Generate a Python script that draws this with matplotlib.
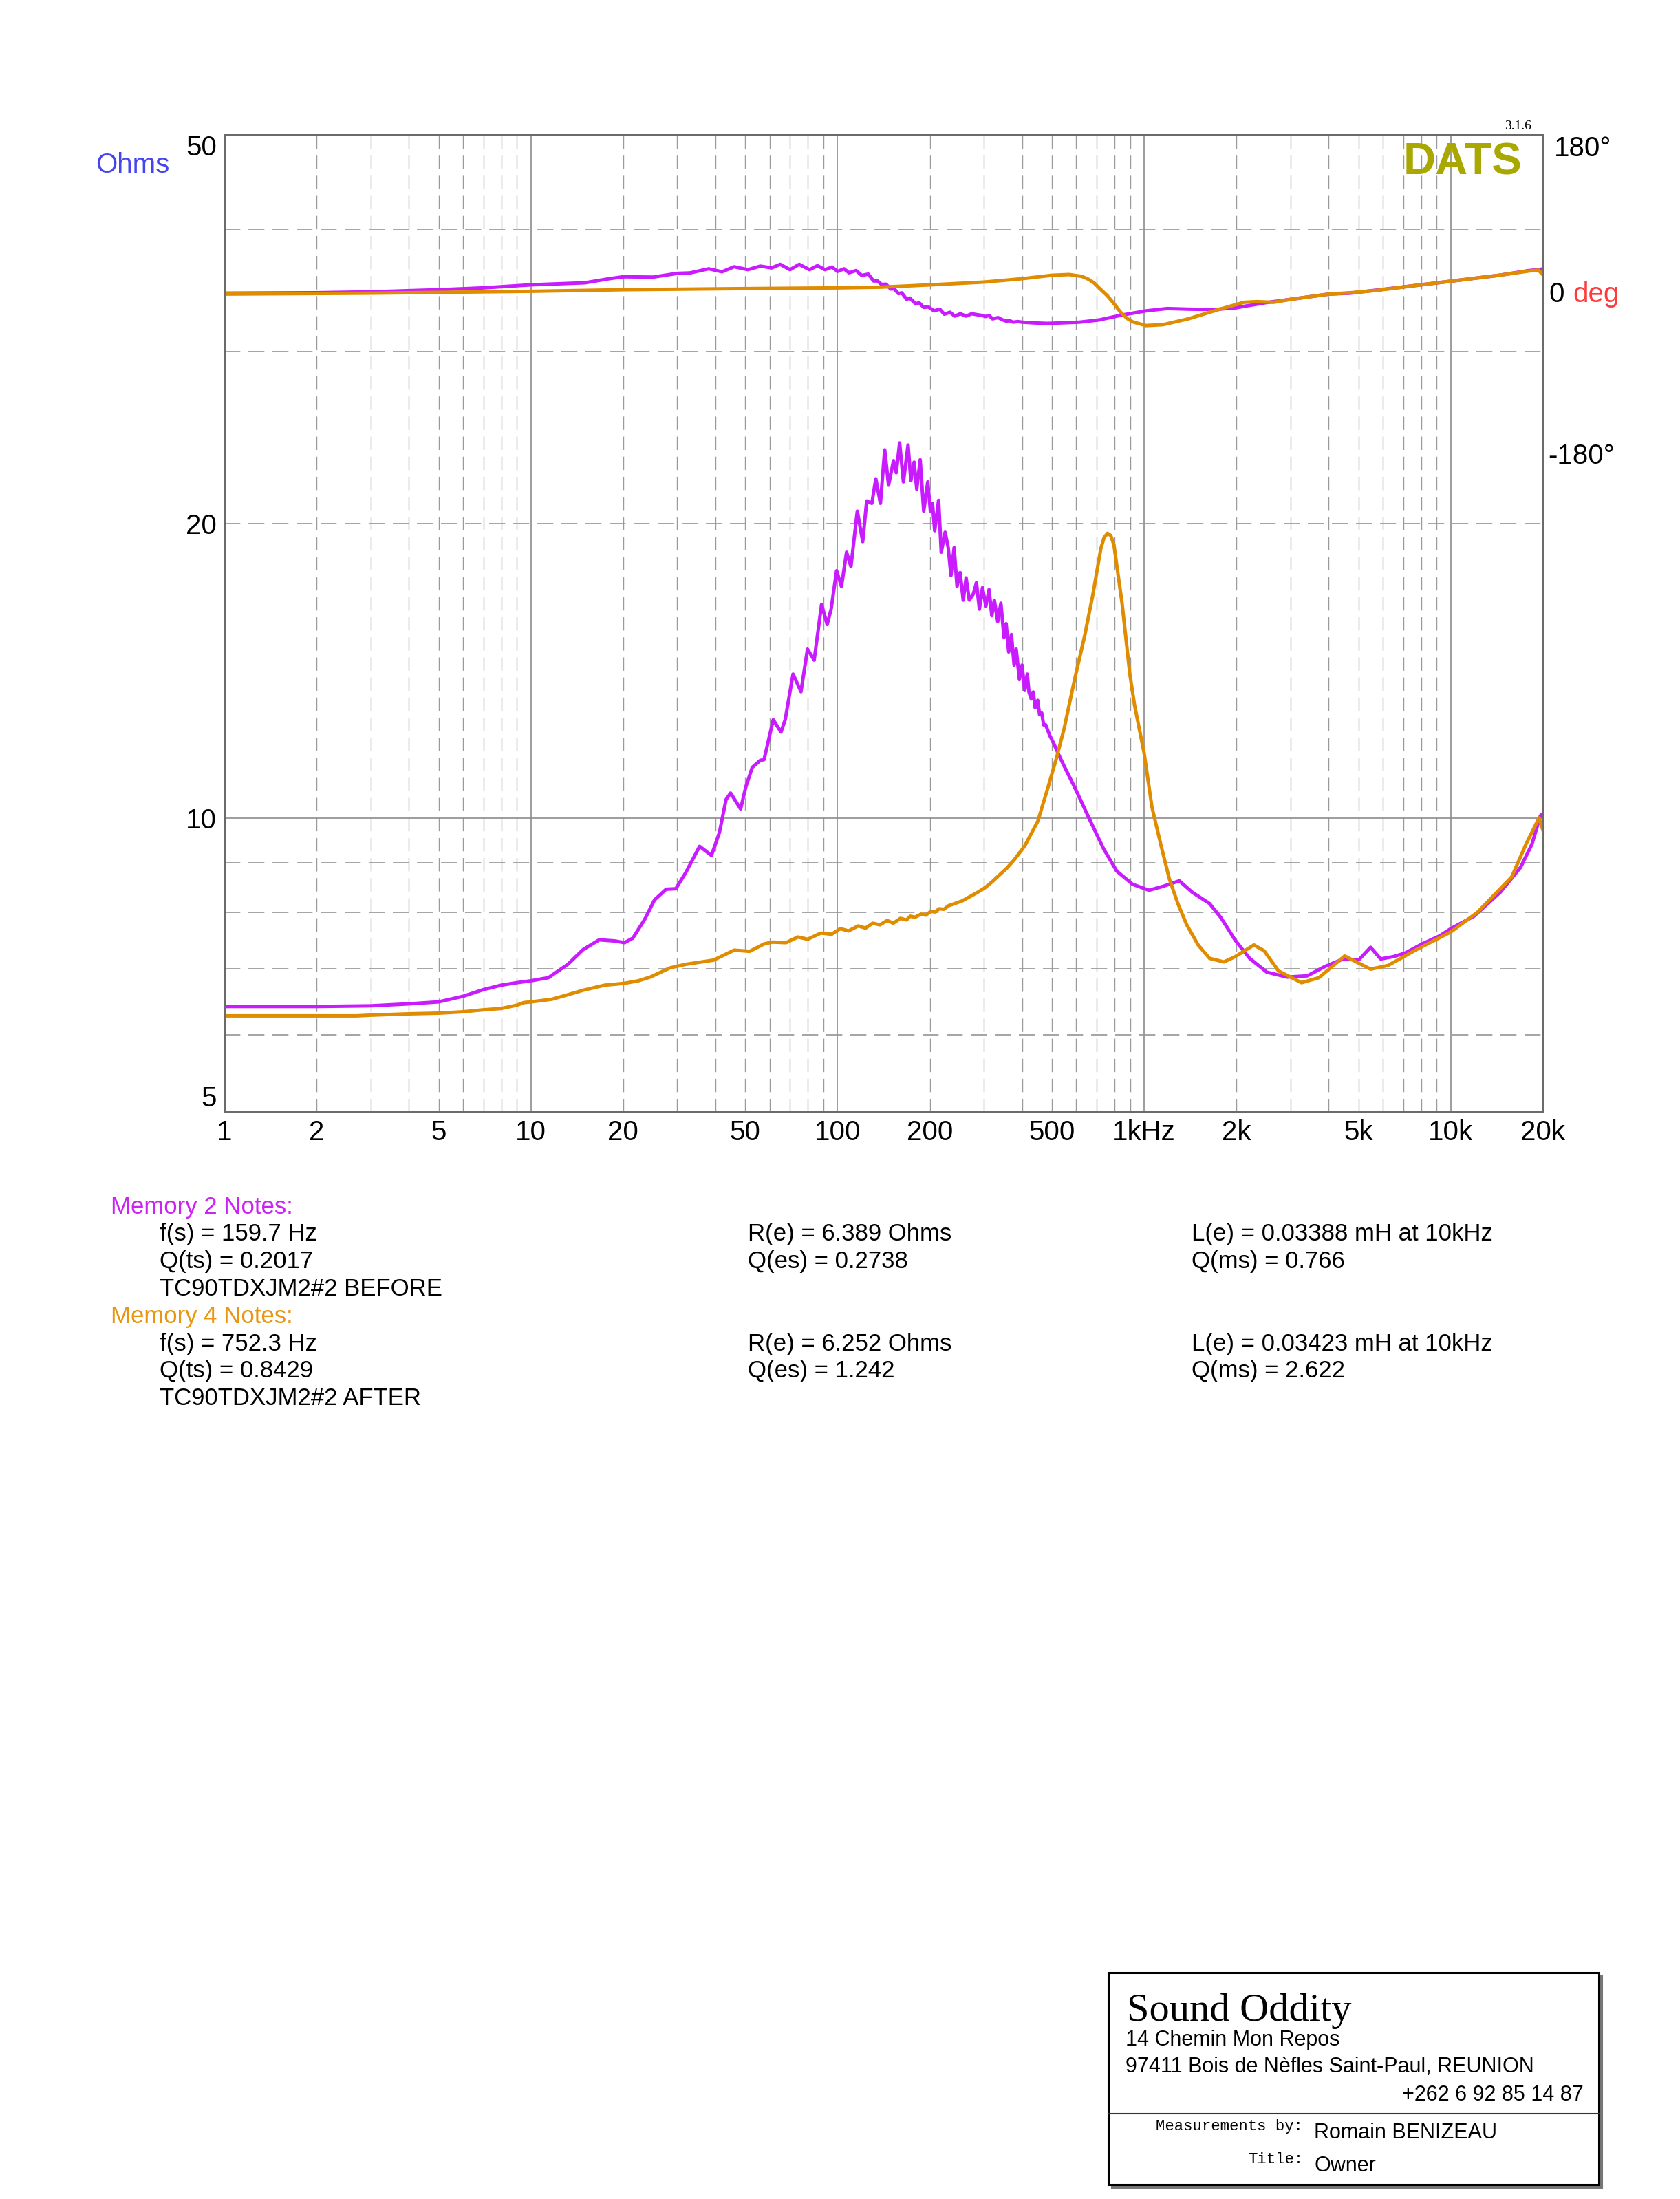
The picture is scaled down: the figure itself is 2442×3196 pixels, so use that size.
import numpy as np
import matplotlib.pyplot as plt
from matplotlib.patches import Rectangle
from matplotlib.lines import Line2D
from matplotlib.ticker import NullLocator, NullFormatter

plt.rcParams['font.family'] = ['Liberation Sans', 'DejaVu Sans']

# ---- data ----
# memory 2 (before), impedance magnitude
f_imp2 = [1, 2, 3, 4, 5, 6, 7, 8, 9, 10, 11.4, 13.2, 14.8, 16.7, 18.8, 20.2, 21.5, 23.5, 25.3, 27.6,
          29.7, 32, 35.5, 38.8, 41.2, 43.3, 44.8, 48.3, 50.2, 52.7, 56, 57.6, 61.7, 65.4, 67.5, 71.6,
          76, 79.8, 83.9, 88.7, 92.5, 95.3, 99.3, 103, 107, 110.6, 116, 120.8, 124.5, 129.4, 133.3,
          138, 142.5, 146.7, 152.3, 155.4, 159.4, 164, 169.8, 173.5, 177.7, 181.3, 186, 191, 196.9,
          200.9, 204, 207.4, 213.6, 217.9, 224.3, 229.6, 234.4, 240, 245.3, 251, 257, 262.6, 269,
          277.3, 283.8, 290.2, 297, 304.6, 312, 318.5, 324.6, 333, 341, 349, 354.7, 361.6, 369,
          376.6, 382.6, 391.8, 399.8, 407.8, 415.6, 421, 428.4, 435, 441, 449.6, 456, 463.5, 470,
          477.3, 491.7, 506, 526.7, 548, 593, 668, 738, 814, 916, 1037, 1156, 1302, 1435, 1634,
          1781, 1983, 2208, 2513, 2925, 3403, 3874, 4412, 5024, 5475, 5906, 6505, 7096, 8079, 9200,
          10000, 11900, 14500, 16900, 18400, 19600, 20000]
z_imp2 = [6.41, 6.41, 6.42, 6.45, 6.48, 6.565, 6.67, 6.74, 6.78, 6.81, 6.86, 7.08, 7.33, 7.5, 7.48,
          7.45, 7.53, 7.87, 8.24, 8.45, 8.46, 8.79, 9.35, 9.15, 9.66, 10.44, 10.6, 10.21, 10.75,
          11.26, 11.45, 11.47, 12.6, 12.24, 12.6, 14.03, 13.46, 14.88, 14.5, 16.53, 15.77, 16.35,
          17.9, 17.25, 18.7, 18.08, 20.6, 19.17, 21.1, 20.98, 22.23, 20.98, 23.8, 21.9, 23.2, 22.55,
          24.19, 22.07, 24.07, 22.14, 23.12, 21.69, 23.25, 20.6, 22.07, 20.6, 20.98, 19.67, 21.13,
          18.7, 19.6, 18.9, 17.7, 18.9, 17.25, 17.82, 16.7, 17.6, 16.7, 16.95, 17.4, 16.35, 17.2,
          16.47, 17.12, 16.1, 16.7, 15.88, 16.58, 15.3, 15.8, 14.78, 15.4, 14.33, 14.88, 13.85,
          14.33, 13.5, 14.03, 13.45, 13.23, 13.45, 12.96, 13.19, 12.75, 12.8, 12.45, 12.45, 12.15,
          11.93, 11.6, 11.3, 10.75, 9.92, 9.29, 8.82, 8.55, 8.43, 8.51, 8.62, 8.39, 8.17, 7.9,
          7.49, 7.18, 6.95, 6.87, 6.89, 7.04, 7.16, 7.16, 7.37, 7.17, 7.21, 7.27, 7.43, 7.57, 7.7,
          7.93, 8.39, 8.9, 9.4, 10.05, 10.1]

# memory 4 (after), impedance magnitude
f_imp4 = [1, 2, 2.7, 3, 4, 5, 6, 7, 8, 9, 9.5, 10, 11.7, 13.2, 14.8, 17.4, 20.2, 22.4, 24.5, 28.4,
          32, 39.4, 42, 46, 51.7, 57.7, 61.4, 67.9, 74.3, 79.9, 88.2, 95.7, 102, 108.6, 116.8, 123.4,
          130.2, 137.5, 145.2, 152, 160.4, 167.9, 172.6, 179, 187.3, 194.1, 201.4, 208.6, 214.4,
          222.3, 230.5, 241.2, 254.7, 271.2, 286.5, 302.6, 319.4, 337.4, 356.3, 376.2, 408, 450,
          486, 516, 548, 593, 641, 681, 722, 740, 759, 778, 797, 847, 898, 930, 1000, 1060, 1132,
          1208, 1288, 1374, 1500, 1634, 1820, 1983, 2280, 2461, 2743, 3260, 3713, 4507, 5475, 6234,
          7726, 10000, 12200, 15800, 17600, 19400, 20000]
z_imp4 = [6.27, 6.27, 6.27, 6.28, 6.30, 6.31, 6.33, 6.36, 6.38, 6.43, 6.47, 6.48, 6.52, 6.59, 6.66,
          6.74, 6.77, 6.81, 6.87, 7.02, 7.08, 7.15, 7.22, 7.32, 7.3, 7.43, 7.46, 7.45, 7.55, 7.51,
          7.62, 7.6, 7.7, 7.66, 7.75, 7.71, 7.8, 7.77, 7.85, 7.8, 7.89, 7.86, 7.93, 7.91, 7.97,
          7.95, 8.02, 8.01, 8.07, 8.06, 8.13, 8.17, 8.22, 8.31, 8.39, 8.48, 8.6, 8.74, 8.88, 9.05,
          9.36, 9.92, 10.75, 11.47, 12.33, 13.85, 15.4, 16.95, 18.85, 19.35, 19.55, 19.45, 19.02,
          16.58, 14.03, 13.05, 11.64, 10.26, 9.4, 8.66, 8.17, 7.78, 7.41, 7.18, 7.12, 7.21, 7.41,
          7.31, 6.97, 6.78, 6.86, 7.22, 7.0, 7.06, 7.33, 7.64, 8.0, 8.7, 9.4, 10.0, 9.7]

# phase, degrees
f_ph2 = [1, 2, 3, 5, 7, 10, 15, 18, 20, 25, 30, 33, 38, 42, 46, 51, 56, 61, 65, 70, 75, 81, 86, 91,
         96, 100, 105, 109, 115, 120, 126, 131, 135, 139, 144, 149, 153, 158, 162, 168, 172, 180,
         184.5, 191, 197.7, 206.4, 215.5, 223, 232.8, 241, 251.6, 262.6, 274, 286, 295, 304, 312,
         320, 334, 345, 355, 364, 374, 387, 400, 437, 484, 537, 615, 712, 836, 1014, 1189, 1394,
         1691, 1985, 2484, 3010, 4011, 4709, 5706, 7598, 10000, 14400, 18000, 19300, 20000]
p_ph2 = [1.5, 2, 3, 5.4, 7.5, 10.9, 13.2, 17.8, 20, 19.6, 23.8, 24.3, 29, 25.6, 31.3, 28, 32, 30,
         34, 28, 34, 28, 32.5, 28, 31, 26, 29, 24.5, 27, 21.5, 23, 15.3, 15.3, 11.4, 11.6, 6.2,
         6.4, 1.0, 1.9, -5.4, -4, -10.6, -9.2, -14.5, -14, -18.4, -16.5, -22.2, -20, -24.3, -21.7,
         -24.3, -21.7, -22.8, -23.5, -24.8, -23.5, -27.4, -26, -28.5, -30, -29.5, -31.2, -30.5,
         -31.2, -32, -32.6, -32, -31.2, -28.7, -23.5, -18.4, -15.8, -16.5, -17, -15, -9.3, -5.4,
         0.5, 1.5, 4.9, 10, 15, 21.7, 27, 28, 29]

f_ph4 = [1, 3, 10, 20, 50, 100, 139, 204, 300, 400, 501, 569, 627, 660, 689, 720, 759, 800, 836,
         880, 920, 1014, 1152, 1394, 1746, 2115, 2325, 2645, 3010, 4011, 4709, 5706, 7598, 10000,
         14400, 18000, 19300, 20000]
p_ph4 = [0.5, 1.5, 3.6, 5.4, 6.7, 7.5, 8.3, 11, 14, 17.8, 21.7, 22.5, 20.4, 17, 12.6, 6, -1.5, -11,
         -19.6, -27, -31, -35, -34, -27.4, -17, -8.8, -8, -8.8, -5.4, 0.5, 2, 4.5, 10, 15, 21.7,
         26.5, 27.5, 22]

xt = [1, 2, 5, 10, 20, 50, 100, 200, 500, 1000, 2000, 5000, 10000, 20000]
xl = ['1', '2', '5', '10', '20', '50', '100', '200', '500', '1kHz', '2k', '5k', '10k', '20k']
yt = [5, 10, 20, 50]
yl = ['5', '10', '20', '50']

notes2 = ['f(s) = 159.7 Hz', 'Q(ts) = 0.2017', 'TC90TDXJM2#2 BEFORE']
notes2b = ['R(e) = 6.389 Ohms', 'Q(es) = 0.2738']
notes2c = ['L(e) = 0.03388 mH at 10kHz', 'Q(ms) = 0.766']
notes4 = ['f(s) = 752.3 Hz', 'Q(ts) = 0.8429', 'TC90TDXJM2#2 AFTER']
notes4b = ['R(e) = 6.252 Ohms', 'Q(es) = 1.242']
notes4c = ['L(e) = 0.03423 mH at 10kHz', 'Q(ms) = 2.622']

PURPLE = '#c81cff'
ORANGE = '#e08c00'

W, H = 2442, 3196
def fx(px): return px / W
def fy(py): return 1 - py / H

fig = plt.figure(figsize=(W / 100, H / 100), dpi=100)
ax = fig.add_axes([fx(326), fy(1616), fx(2243) - fx(326), fy(196) - fy(1616)])
ax.set_xscale('log')
ax.set_yscale('log')
ax.set_xlim(1, 20000)
ax.set_ylim(5, 50)

dash = (0, (14, 7))
for dec in [1, 10, 100, 1000, 10000]:
    for m in range(2, 10):
        if dec * m < 20000:
            ax.axvline(dec * m, color='#9a9a9a', lw=1.0, ls=dash, zorder=1)
for f in [10, 100, 1000, 10000]:
    ax.axvline(f, color='#8c8c8c', lw=1.2, zorder=1)
for z in [6, 7, 8, 9, 20, 30, 40]:
    ax.axhline(z, color='#959595', lw=1.2, ls=dash, zorder=1)
ax.axhline(10, color='#8c8c8c', lw=1.2, zorder=1)

LW = 3.6
ax.plot(f_imp2, z_imp2, color=PURPLE, lw=LW, solid_joinstyle='round', zorder=3)
ax.plot(f_imp4, z_imp4, color=ORANGE, lw=LW, solid_joinstyle='round', zorder=4)

ax2 = ax.twinx()
ax2.set_ylim(-921.6, 180)
ax2.set_yticks([])
ax2.plot(f_ph2, p_ph2, color=PURPLE, lw=LW, solid_joinstyle='round')
ax2.plot(f_ph4, p_ph4, color=ORANGE, lw=LW, solid_joinstyle='round')

for a in (ax, ax2):
    for s in a.spines.values():
        s.set_color('#6a6a6a')
        s.set_linewidth(2)

ax.xaxis.set_minor_locator(NullLocator())
ax.xaxis.set_minor_formatter(NullFormatter())
ax.yaxis.set_minor_locator(NullLocator())
ax.yaxis.set_minor_formatter(NullFormatter())
ax.set_xticks(xt)
ax.set_xticklabels(xl, fontsize=29)
ax.set_yticks(yt)
labs = ax.set_yticklabels(yl, fontsize=29)
labs[0].set_va('bottom')
labs[-1].set_va('top')
ax.tick_params(axis='both', length=0)
ax.tick_params(axis='x', pad=8)
ax.tick_params(axis='y', pad=8)

# axis titles and labels around the frame
fig.text(fx(139), fy(240), 'Ohms', color='#4545f0', fontsize=29, va='center', ha='left')
fig.text(fx(2259), fy(216), '180°', fontsize=29, va='center', ha='left')
fig.text(fx(2251), fy(428), '0', fontsize=29, va='center', ha='left')
fig.text(fx(2286), fy(428), 'deg', color='#ff3a3a', fontsize=29, va='center', ha='left')
fig.text(fx(2250), fy(663), '-180°', fontsize=29, va='center', ha='left')
fig.text(fx(2212), fy(236), 'DATS', color='#a8a800', fontsize=47, fontweight='bold',
         va='center', ha='right')
fig.text(fx(2226), fy(183), '3.1.6', fontsize=14, family='Liberation Serif',
         va='center', ha='right')

# notes
NS = 25
fig.text(fx(161), fy(1764), 'Memory 2 Notes:', color='#cc22f2', fontsize=NS)
base2 = [1803, 1843, 1883]
for t, b in zip(notes2, base2):
    fig.text(fx(232), fy(b), t, fontsize=NS)
for t, b in zip(notes2b, base2):
    fig.text(fx(1087), fy(b), t, fontsize=NS)
for t, b in zip(notes2c, base2):
    fig.text(fx(1732), fy(b), t, fontsize=NS)

fig.text(fx(161), fy(1923), 'Memory 4 Notes:', color='#e8960f', fontsize=NS)
base4 = [1963, 2002, 2042]
for t, b in zip(notes4, base4):
    fig.text(fx(232), fy(b), t, fontsize=NS)
for t, b in zip(notes4b, base4):
    fig.text(fx(1087), fy(b), t, fontsize=NS)
for t, b in zip(notes4c, base4):
    fig.text(fx(1732), fy(b), t, fontsize=NS)

# title block
bx0, by0, bx1, by1 = 1611, 2867, 2324, 3175
fig.patches.append(Rectangle((fx(bx0 + 5), fy(by1 + 5)), fx(bx1) - fx(bx0), fy(by0) - fy(by1),
                             transform=fig.transFigure, facecolor='#777777', edgecolor='#777777',
                             lw=1.5, zorder=0))
fig.patches.append(Rectangle((fx(bx0), fy(by1)), fx(bx1) - fx(bx0), fy(by0) - fy(by1),
                             transform=fig.transFigure, facecolor='white', edgecolor='black',
                             lw=2.2, zorder=1))
fig.lines.append(Line2D([fx(bx0), fx(bx1)], [fy(3072), fy(3072)], transform=fig.transFigure,
                        color='#333333', lw=1.5))
fig.text(fx(1638), fy(2937), 'Sound Oddity', family='Liberation Serif', fontsize=42)
fig.text(fx(1636), fy(2973), '14 Chemin Mon Repos', fontsize=22)
fig.text(fx(1636), fy(3012), '97411 Bois de Nèfles Saint-Paul, REUNION', fontsize=22)
fig.text(fx(2302), fy(3053), '+262 6 92 85 14 87', fontsize=22, ha='right')
fig.text(fx(1894), fy(3096), 'Measurements by:', family='Liberation Mono', fontsize=16, ha='right')
fig.text(fx(1910), fy(3108), 'Romain BENIZEAU', fontsize=22)
fig.text(fx(1894), fy(3144), 'Title:', family='Liberation Mono', fontsize=16, ha='right')
fig.text(fx(1910), fy(3156), 'Owner', fontsize=22)

fig.savefig('out.png', dpi=100, facecolor='white')
